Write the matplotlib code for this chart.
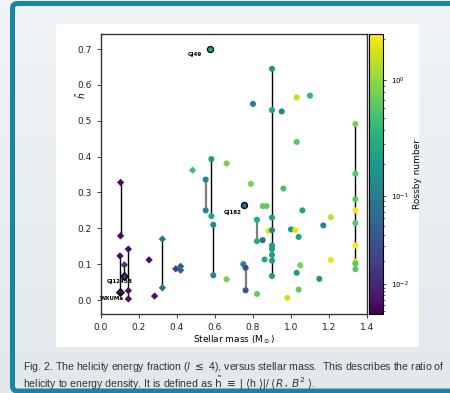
import numpy as np
import matplotlib
matplotlib.use('agg')
import matplotlib.pyplot as plt
from matplotlib import colors, ticker
from matplotlib.patches import FancyBboxPatch, Rectangle

# one entry per observation epoch: star id, stellar mass, helicity fraction, Rossby number
star = [1, 1, 2, 3, 4, 4, 4, 5, 6, 7, 7, 8, 9, 9, 10, 11, 11, 12, 12, 13, 13,
        14, 15, 16, 17, 17, 18, 19, 20, 20, 21, 22, 23, 24, 25, 26,
        27, 27, 27, 27, 27, 27, 27, 27, 27,
        28, 29, 30, 31, 32, 33, 34, 35, 36, 37, 38, 39, 40, 41, 42, 43, 44,
        45, 45, 45, 45, 45, 45, 45, 45, 45]
mass = [0.103, 0.103, 0.100, 0.123, 0.144, 0.144, 0.144, 0.253, 0.282, 0.323, 0.323,
        0.393, 0.419, 0.419, 0.482, 0.551, 0.551, 0.581, 0.581, 0.591, 0.591,
        0.661, 0.661, 0.749, 0.761, 0.761, 0.789, 0.800, 0.821, 0.821, 0.821,
        0.851, 0.851, 0.861, 0.872, 0.881,
        0.90, 0.90, 0.90, 0.90, 0.90, 0.90, 0.90, 0.90, 0.90,
        0.951, 0.96, 0.981, 1.00, 1.023, 1.03, 1.03, 1.03, 1.04, 1.04, 1.049,
        1.06, 1.10, 1.149, 1.17, 1.21, 1.21,
        1.339, 1.339, 1.339, 1.339, 1.339, 1.339, 1.339, 1.339, 1.339]
hfrac = [0.328, 0.179, 0.123, 0.098, 0.142, 0.026, 0.003, 0.112, 0.011, 0.170, 0.034,
         0.087, 0.094, 0.083, 0.362, 0.336, 0.250, 0.393, 0.234, 0.210, 0.069,
         0.381, 0.058, 0.100, 0.090, 0.027, 0.324, 0.547, 0.224, 0.164, 0.017,
         0.262, 0.167, 0.113, 0.262, 0.193,
         0.645, 0.530, 0.230, 0.195, 0.152, 0.142, 0.126, 0.110, 0.067,
         0.526, 0.311, 0.006, 0.197, 0.195, 0.565, 0.441, 0.076, 0.176, 0.029, 0.097,
         0.250, 0.570, 0.059, 0.208, 0.231, 0.112,
         0.491, 0.352, 0.281, 0.250, 0.215, 0.152, 0.107, 0.102, 0.086]
rossby = [0.005, 0.005, 0.005, 0.015, 0.005, 0.005, 0.005, 0.005, 0.006, 0.07, 0.07,
          0.025, 0.05, 0.05, 0.5, 0.12, 0.12, 0.2, 0.28, 0.13, 0.13,
          0.8, 0.8, 0.12, 0.03, 0.03, 0.8, 0.1, 0.3, 0.3, 0.7,
          0.7, 0.07, 0.3, 0.7, 1.8,
          0.2, 0.25, 0.22, 0.13, 0.22, 0.22, 0.22, 0.22, 0.22,
          0.12, 0.5, 1.5, 0.2, 1.8, 1.4, 0.6, 0.22, 0.22, 0.7, 0.8,
          0.22, 0.4, 0.18, 0.12, 1.4, 1.8,
          0.8, 0.6, 0.6, 2.2, 0.6, 2.2, 2.2, 0.6, 0.6]

# highlighted stars
names = ['GJ49', 'GJ182', 'GJ1245B', 'WXUMa']
name_star = [46, 47, 3, 2]
name_mass = [0.572, 0.753, 0.123, 0.100]
name_h = [0.700, 0.264, 0.067, 0.021]
name_ro = [0.3, 0.06, 0.012, 0.005]

gray_lines = [11, 17, 20]

W, H = 450, 393

def fx(px):
    return px / W

def fy(py):
    return 1 - py / H

fig = plt.figure(figsize=(4.5, 3.93), dpi=100)

# page background, border and white panel
bg = fig.add_axes([0, 0, 1, 1], zorder=-10)
grad = np.linspace(0, 1, 100)[:, None]
top_c = np.array(colors.to_rgb('#f0f4f6'))
bot_c = np.array(colors.to_rgb('#e2e8eb'))
bg.imshow(top_c + grad[:, :, None] * (bot_c - top_c), aspect='auto',
          extent=[0, 1, 0, 1])
bg.set_xlim(0, 1)
bg.set_ylim(0, 1)
bg.axis('off')
bg.add_patch(FancyBboxPatch((fx(12.5), fy(391)), fx(460), fy(3.5) - fy(391),
                            boxstyle='round,pad=0,rounding_size=0.012',
                            fc='none', ec='#1a84a6', lw=3.6,
                            transform=fig.transFigure))
bg.add_patch(Rectangle((fx(56), fy(347)), fx(363), fy(24) - fy(347),
                       fc='white', ec='none', transform=fig.transFigure))

ax = fig.add_axes([fx(101), fy(314), fx(266), fy(34) - fy(314)])
cax = fig.add_axes([fx(369), fy(314), fx(13.5), fy(34) - fy(314)])

# colour scale on the bar is stretched towards high Rossby numbers
k = 0.1085
def fwd(x):
    u = np.log10(x)
    return u + k * u ** 2
def inv(y):
    u = (-1 + np.sqrt(1 + 4 * k * y)) / (2 * k)
    return 10 ** u
norm = colors.FuncNorm((fwd, inv), vmin=10 ** -2.44, vmax=10 ** 0.34)
cmap = plt.get_cmap('viridis')

star = np.array(star)
mass = np.array(mass)
hfrac = np.array(hfrac)
rossby = np.array(rossby)

all_star = np.concatenate([star, name_star])
all_mass = np.concatenate([mass, name_mass])
all_h = np.concatenate([hfrac, name_h])
for s in np.unique(all_star):
    sel = all_star == s
    if sel.sum() < 2:
        continue
    if s in gray_lines:
        ax.vlines(all_mass[sel][0], all_h[sel].min(), all_h[sel].max(),
                  color='#7f7f7f', lw=1.6, zorder=1)
    else:
        ax.vlines(all_mass[sel][0], all_h[sel].min(), all_h[sel].max(),
                  color='black', lw=1.0, zorder=1)

low = mass < 0.5
ax.scatter(mass[low], hfrac[low], c=rossby[low], cmap=cmap, norm=norm,
           marker='D', s=14, linewidths=0, zorder=2)
sc = ax.scatter(mass[~low], hfrac[~low], c=rossby[~low], cmap=cmap, norm=norm,
                marker='o', s=19, linewidths=0, zorder=2)

name_mass = np.array(name_mass)
name_ro = np.array(name_ro)
for i, nm in enumerate(names):
    mk = 'D' if name_mass[i] < 0.5 else 'o'
    ax.scatter(name_mass[i], name_h[i], c=[cmap(norm(name_ro[i]))], marker=mk,
               s=15 if mk == 'D' else 19, edgecolors='black', linewidths=0.9,
               zorder=3)
label_off = [(-11, -4), (-8, -5), (-3, -4), (-6, -4)]
for i, nm in enumerate(names):
    ax.annotate(nm, (name_mass[i], name_h[i]), xytext=label_off[i],
                textcoords='offset points', ha='center', va='center',
                fontsize=4, fontweight='bold', zorder=4)

ax.set_xlim(0, 1.4)
ax.set_ylim(-0.039, 0.742)
ax.set_xticks(np.arange(0, 1.41, 0.2))
ax.set_yticks(np.arange(0, 0.71, 0.1))
ax.xaxis.set_major_formatter(ticker.FormatStrFormatter('%.1f'))
ax.yaxis.set_major_formatter(ticker.FormatStrFormatter('%.1f'))
ax.tick_params(labelsize=6.5, length=3, width=0.6, colors='#222222')
for sp in ax.spines.values():
    sp.set_linewidth(1.0)
    sp.set_color('#333333')
ax.set_xlabel(r'Stellar mass (M$_\odot$)', fontsize=6.5, labelpad=1)
ax.set_ylabel(r'$\tilde{h}$', fontsize=6.5)
ax.yaxis.set_label_coords(-0.05, 0.78)

cb = fig.colorbar(sc, cax=cax)
cb.set_ticks([0.01, 0.1, 1])
cb.ax.yaxis.set_major_formatter(ticker.LogFormatterSciNotation())
cb.ax.yaxis.set_minor_locator(ticker.LogLocator(subs=np.arange(2, 10)))
cb.ax.yaxis.set_minor_formatter(ticker.NullFormatter())
cb.ax.tick_params(labelsize=5, length=2.5, width=0.5)
cb.ax.tick_params(which='minor', length=1.5, width=0.4)
cb.outline.set_linewidth(0.8)
cb.set_label('Rossby number', fontsize=6.5, labelpad=3)

cap1 = r'Fig. 2. The helicity energy fraction ($l$ $\leq$ 4), versus stellar mass.  This describes the ratio of'
cap2 = r'helicity to energy density. It is defined as $\tilde{\rm h}$ $\equiv$ | $\langle$h $\rangle$|/ $\langle R_\star\, B^2$ $\rangle$.'
fig.text(fx(23), fy(367.5), cap1, fontsize=7.6, family='Liberation Sans',
         color='#333333', va='center')
fig.text(fx(23), fy(383), cap2, fontsize=7.6, family='Liberation Sans',
         color='#333333', va='center')

fig.savefig('out.png', dpi=100, facecolor=fig.get_facecolor())
